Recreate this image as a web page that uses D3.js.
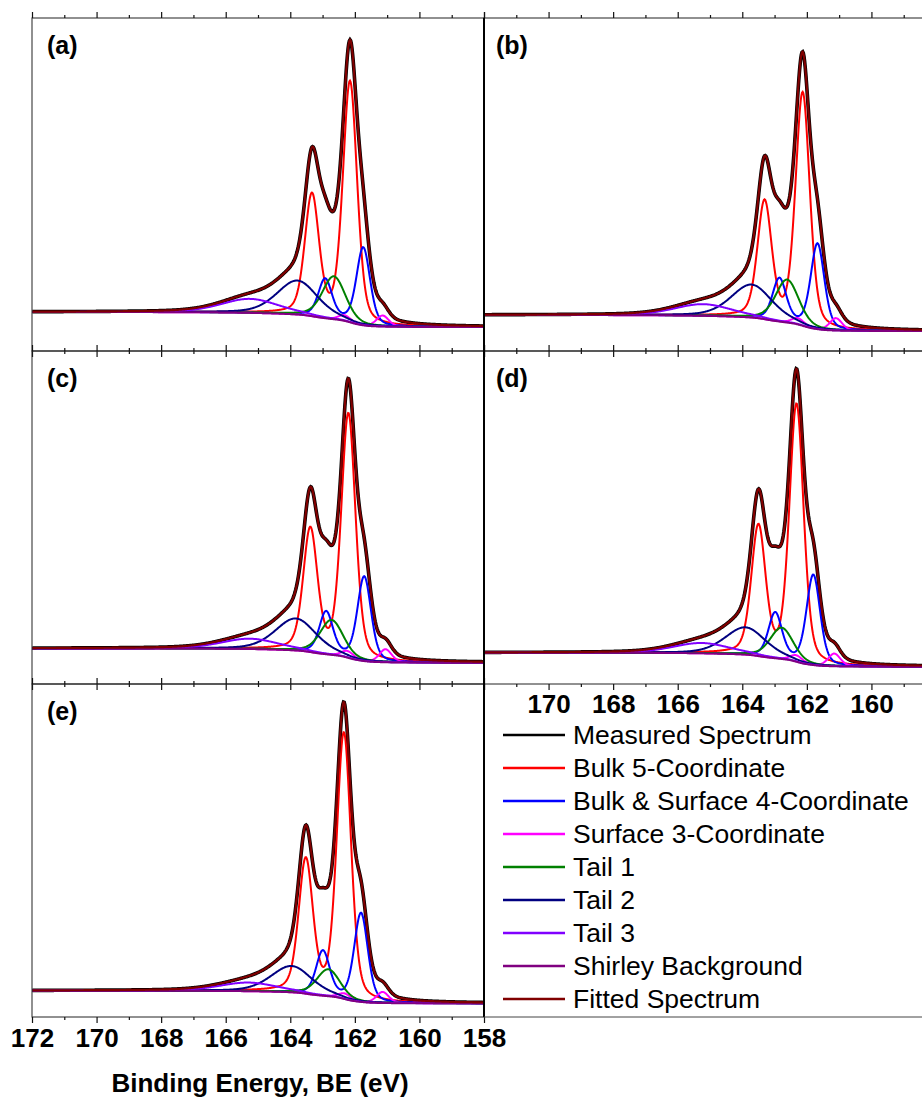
<!DOCTYPE html>
<html>
<head>
<meta charset="utf-8">
<script src="https://cdn.jsdelivr.net/npm/d3@7"></script>
<style>
body { margin: 0; background: #fff; }
text { font-family: "Liberation Sans", Arial, sans-serif; }
.tick line { stroke: #111; stroke-width: 1.2; }
.tick text { font-size: 26px; font-weight: bold; fill: #000; }
</style>
</head>
<body>
<svg id="chart" width="922" height="1097"></svg>
<script>
// panels, in reading order
const panelLabels = ['(a)', '(b)', '(c)', '(d)', '(e)'];

// Shirley background end levels (high-BE side, low-BE side)
const bgHigh = [11.7, 10.8, 10.7, 9.4, 7.9];
const bgLow = [7.2, 6.0, 6.4, 5.2, 4.1];

// S 2p3/2 position (eV) and height of each fitted component, per panel
const bulk5Pos = [162.15, 162.13, 162.20, 162.32, 162.34];
const bulk5Amp = [72.0, 69.7, 73.0, 77.0, 79.5];
const bulk4Pos = [161.74, 161.67, 161.71, 161.80, 161.81];
const bulk4Amp = [23.3, 25.6, 25.3, 27.0, 26.6];
const surf3Pos = [161.14, 161.10, 161.05, 161.15, 161.14];
const surf3Amp = [3.3, 3.7, 3.9, 3.8, 3.3];
const tail1Pos = [162.65, 162.61, 162.72, 162.78, 162.82];
const tail1Amp = [12.9, 12.9, 10.5, 9.4, 8.1];
const tail2Pos = [163.78, 163.71, 163.83, 163.90, 163.96];
const tail2Amp = [10.2, 9.9, 9.6, 8.2, 7.9];
const tail3Pos = [165.25, 165.21, 165.25, 165.26, 165.30];
const tail3Amp = [4.2, 3.5, 3.1, 3.1, 2.6];

// peak widths (FWHM, eV): bulk5, bulk4, surf3, tail1, tail2, tail3
const peakFwhm = [0.52, 0.5, 0.45, 0.85, 1.5, 2.1];
const lorentzMix = 0.35;
const doubletSplit = 1.18;
const branchRatio = 0.5;

const tickValues = [172, 170, 168, 166, 164, 162, 160, 158];
const legendNames = ['Measured Spectrum', 'Bulk 5-Coordinate', 'Bulk & Surface 4-Coordinate',
    'Surface 3-Coordinate', 'Tail 1', 'Tail 2', 'Tail 3', 'Shirley Background', 'Fitted Spectrum'];
const colors = ['#000000', '#ff0000', '#0000ff', '#ff00ff', '#008000', '#000080', '#8000ff', '#800080', '#800000'];

const svg = d3.select('#chart');
svg.append('rect').attr('width', 922).attr('height', 1097).attr('fill', '#fff');

const colX = [32, 484];
const colW = 452;
const rowY = [18, 351, 684];
const rowH = 333;
const panelCol = [0, 1, 0, 1, 0];
const panelRow = [0, 0, 1, 1, 2];

const grid = d3.range(15801, 17200, 2).map(d => d / 100);

const pv = (e, c, h, w) => {
    const t = (e - c) / (w / 2);
    return h * ((1 - lorentzMix) * Math.exp(-Math.LN2 * t * t) + lorentzMix / (1 + t * t));
};
const doublet = (e, c, h, w) => pv(e, c, h, w) + pv(e, c + doubletSplit, h * branchRatio, w);

panelLabels.forEach((label, i) => {
    const x0 = colX[panelCol[i]];
    const top = rowY[panelRow[i]];
    const bottom = top + rowH;

    const x = d3.scaleLinear().domain([172, 158]).range([x0, x0 + colW]);
    const y = d3.scaleLinear().domain([0, 100]).range([bottom, top]);

    const comps = [
        e => doublet(e, bulk5Pos[i], bulk5Amp[i], peakFwhm[0]),
        e => doublet(e, bulk4Pos[i], bulk4Amp[i], peakFwhm[1]),
        e => doublet(e, surf3Pos[i], surf3Amp[i], peakFwhm[2]),
        e => pv(e, tail1Pos[i], tail1Amp[i], peakFwhm[3]),
        e => pv(e, tail2Pos[i], tail2Amp[i], peakFwhm[4]),
        e => pv(e, tail3Pos[i], tail3Amp[i], peakFwhm[5])
    ];
    const sum = grid.map(e => d3.sum(comps, f => f(e)));
    // Shirley: step proportional to the peak area on the low-BE side
    const cum = d3.cumsum(sum);
    const total = cum[cum.length - 1];
    const bg = cum.map(c => bgLow[i] + (bgHigh[i] - bgLow[i]) * c / total);

    const g = svg.append('g');
    const clipId = `clip${i}`;
    g.append('clipPath').attr('id', clipId)
        .append('rect').attr('x', x0).attr('y', top).attr('width', colW).attr('height', rowH);
    const plot = g.append('g').attr('clip-path', `url(#${clipId})`);

    const line = d3.line().x(d => x(d[0])).y(d => y(d[1]));
    const fitted = grid.map((e, k) => [e, bg[k] + sum[k]]);

    plot.append('path').datum(fitted).attr('d', line)
        .attr('fill', 'none').attr('stroke', colors[0]).attr('stroke-width', 3.6);
    comps.forEach((f, j) => {
        plot.append('path').datum(grid.map((e, k) => [e, bg[k] + f(e)])).attr('d', line)
            .attr('fill', 'none').attr('stroke', colors[j + 1]).attr('stroke-width', 2);
    });
    plot.append('path').datum(grid.map((e, k) => [e, bg[k]])).attr('d', line)
        .attr('fill', 'none').attr('stroke', colors[7]).attr('stroke-width', 2);
    plot.append('path').datum(fitted).attr('d', line)
        .attr('fill', 'none').attr('stroke', colors[8]).attr('stroke-width', 2.2);

    // frame
    g.append('rect').attr('x', x0).attr('y', top).attr('width', colW).attr('height', rowH)
        .attr('fill', 'none').attr('stroke', '#222').attr('stroke-width', 1);

    const minor = d3.range(158, 173, 1).filter(v => v % 2 !== 0);
    const tickG = (axis, ty, size, labels) => {
        const a = g.append('g').attr('transform', `translate(0,${ty})`)
            .call(axis(x).tickValues(size > 3 ? tickValues : minor).tickSize(size).tickSizeOuter(0)
                .tickPadding(6).tickFormat(labels ? labels : ''));
        a.select('.domain').remove();
        return a;
    };
    tickG(d3.axisTop, top, 6);
    tickG(d3.axisTop, top, 3);
    tickG(d3.axisBottom, bottom, 3);
    if (i === 4) {
        tickG(d3.axisBottom, bottom, 6, d3.format('d'));
    } else if (i === 3) {
        const a = tickG(d3.axisBottom, bottom, 6, d => (d === 172 || d === 158) ? '' : d);
        a.selectAll('text').attr('y', 11);
    } else {
        tickG(d3.axisBottom, bottom, 6);
    }

    g.append('text').attr('x', x0 + (panelCol[i] ? 12 : 15)).attr('y', top + 36)
        .attr('font-size', 25).attr('font-weight', 'bold').text(label);
});

// shared middle line and legend-area bottom edge
svg.append('line').attr('x1', 484).attr('x2', 484).attr('y1', 18).attr('y2', 1017)
    .attr('stroke', '#000').attr('stroke-width', 2);
svg.append('line').attr('x1', 484).attr('x2', 922).attr('y1', 1017).attr('y2', 1017)
    .attr('stroke', '#444').attr('stroke-width', 1);

svg.append('text').attr('x', 260).attr('y', 1092).attr('text-anchor', 'middle')
    .attr('font-size', 26).attr('font-weight', 'bold').text('Binding Energy, BE (eV)');

// legend
const legend = svg.append('g').attr('transform', 'translate(503,735)');
legendNames.forEach((name, j) => {
    const row = legend.append('g').attr('transform', `translate(0,${j * 33})`);
    row.append('line').attr('x1', 0).attr('x2', 62).attr('stroke', colors[j]).attr('stroke-width', 2.5);
    row.append('text').attr('x', 70).attr('dy', '0.35em').attr('font-size', 26.5).text(name);
});
</script>
</body>
</html>
